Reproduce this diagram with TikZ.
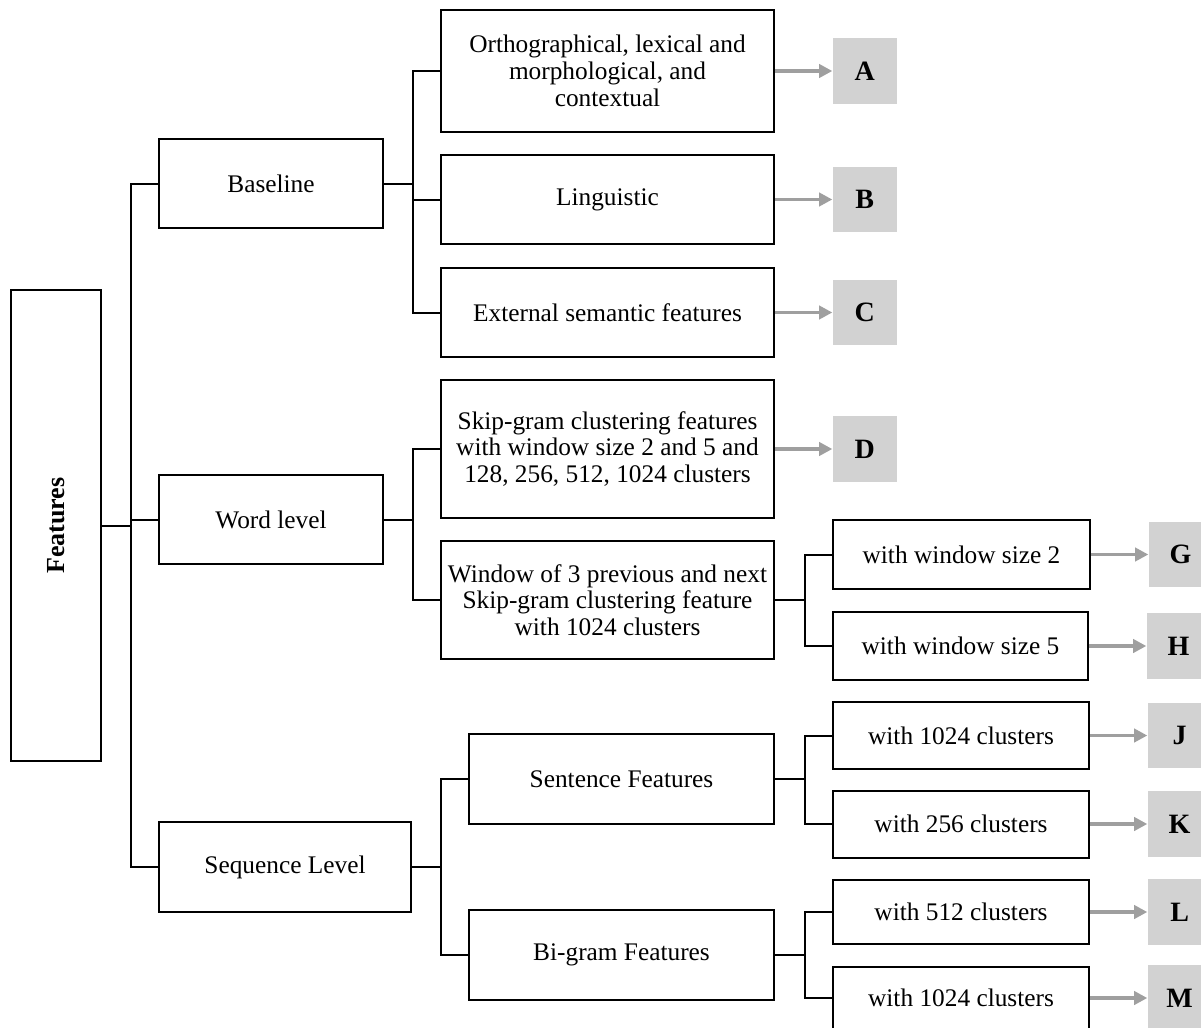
\documentclass[tikz,border=0pt]{standalone}
\usepackage{fontspec}
\setmainfont{Liberation Serif}
\usetikzlibrary{arrows.meta,positioning}

\tikzset{
    box/.style={draw, line width=1.5pt, inner sep=0pt, align=center, font=\fontsize{19}{20}\selectfont},
    sz/.style 2 args={minimum width=#1*0.75pt, minimum height=#2*0.75pt},
    tag/.style={fill=gray!35, inner sep=0pt, minimum width=48pt, minimum height=49pt, font=\fontsize{21}{22}\selectfont\bfseries},
    link/.style={line width=1.5pt},
    arr/.style={draw=gray!75, line width=2.6pt, -{Triangle[length=10pt,width=10pt]}},
}

\begin{document}
\begin{tikzpicture}[x=0.75pt, y=-0.75pt]
    \path[use as bounding box, clip] (0,0) rectangle (1201,1027);

    % root and first level
    \node(feat) [box, sz={90}{471}] at (56,525.5) {\rotatebox{90}{\fontsize{19.5}{20}\selectfont\bfseries Features}};
    \node(base) [box, sz={224}{89}] at (271,183.5) {Baseline};
    \node(word) [box, sz={224}{89}] at (271,519.5) {Word level};
    \node(seq) [box, sz={252}{90}] at (285,867) {Sequence Level};

    % second level
    \node(orth) [box, sz={333}{122}] at (607.5,71) {Orthographical, lexical and\\ morphological, and\\ contextual};
    \node(ling) [box, sz={333}{89}] at (607.5,199.5) {Linguistic};
    \node(ext) [box, sz={333}{89}] at (607.5,312.5) {External semantic features};
    \node(skip) [box, sz={333}{138}] at (607.5,449) {Skip-gram clustering features\\ with window size 2 and 5 and\\ 128, 256, 512, 1024 clusters};
    \node(win) [box, sz={333}{118}] at (607.5,600) {Window of 3 previous and next\\ Skip-gram clustering feature\\ with 1024 clusters};
    \node(sent) [box, sz={305}{90}] at (621.5,779) {Sentence Features};
    \node(bigr) [box, sz={305}{90}] at (621.5,955) {Bi-gram Features};

    % third level
    \node(ws2) [box, sz={257}{69}] at (961.5,554.5) {with window size 2};
    \node(ws5) [box, sz={255}{68}] at (960.5,646) {with window size 5};
    \node(s1024) [box, sz={256}{67}] at (961,735.5) {with 1024 clusters};
    \node(s256) [box, sz={256}{67}] at (961,824) {with 256 clusters};
    \node(b512) [box, sz={256}{64}] at (961,912) {with 512 clusters};
    \node(b1024) [box, sz={256}{62}] at (961,998) {with 1024 clusters};

    % letters
    \node(tA) [tag, right=43pt of orth] {A};
    \node(tB) [tag, right=43pt of ling] {B};
    \node(tC) [tag, right=43pt of ext] {C};
    \node(tD) [tag, right=43pt of skip] {D};
    \node(tG) [tag, right=43pt of ws2] {G};
    \node(tH) [tag, right=43pt of ws5] {H};
    \node(tJ) [tag, right=43pt of s1024] {J};
    \node(tK) [tag, right=43pt of s256] {K};
    \node(tL) [tag, right=43pt of b512] {L};
    \node(tM) [tag, right=43pt of b1024] {M};

    % tree lines
    \draw[link] (feat.east) -- ++(29,0) coordinate(jf);
    \draw[link] (jf) |- (base.west) (jf) |- (word.west) (jf) |- (seq.west);
    \draw[link] (base.east) -- ++(29,0) coordinate(jb);
    \draw[link] (jb) |- (orth.west) (jb) |- (ling.west) (jb) |- (ext.west);
    \draw[link] (word.east) -- ++(29,0) coordinate(jw);
    \draw[link] (jw) |- (skip.west) (jw) |- (win.west);
    \draw[link] (win.east) -- ++(30,0) coordinate(jn);
    \draw[link] (jn) |- (ws2.west) (jn) |- (ws5.west);
    \draw[link] (seq.east) -- ++(29,0) coordinate(js);
    \draw[link] (js) |- (sent.west) (js) |- (bigr.west);
    \draw[link] (sent.east) -- ++(30,0) coordinate(jt);
    \draw[link] (jt) |- (s1024.west) (jt) |- (s256.west);
    \draw[link] (bigr.east) -- ++(30,0) coordinate(jg);
    \draw[link] (jg) |- (b512.west) (jg) |- (b1024.west);

    % arrows to letters
    \draw[arr] (orth) -- (tA);
    \draw[arr] (ling) -- (tB);
    \draw[arr] (ext) -- (tC);
    \draw[arr] (skip) -- (tD);
    \draw[arr] (ws2) -- (tG);
    \draw[arr] (ws5) -- (tH);
    \draw[arr] (s1024) -- (tJ);
    \draw[arr] (s256) -- (tK);
    \draw[arr] (b512) -- (tL);
    \draw[arr] (b1024) -- (tM);
\end{tikzpicture}
\end{document}
